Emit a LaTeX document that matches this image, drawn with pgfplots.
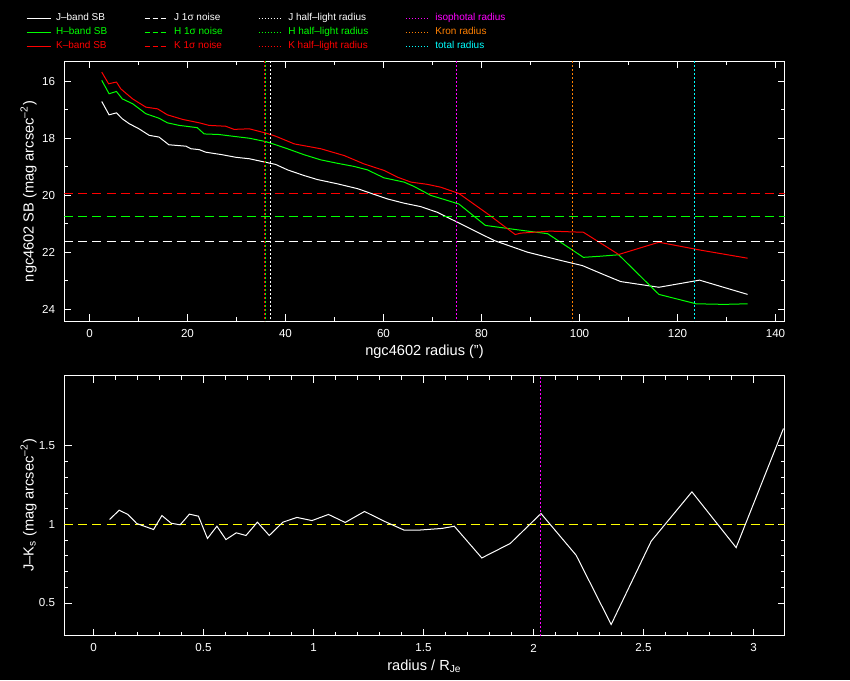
\documentclass[border=0pt]{standalone}
\usepackage{fontspec}
\setmainfont{Liberation Sans}
\usepackage{pgfplots}
\usepackage{pgfplotstable}
\pgfplotsset{compat=1.18}
\definecolor{pgreen}{RGB}{0,255,0}
\definecolor{pred}{RGB}{255,0,0}
\definecolor{pmag}{RGB}{255,0,255}
\definecolor{porange}{RGB}{255,128,0}
\definecolor{pcyan}{RGB}{0,255,255}
\definecolor{pyellow}{RGB}{255,255,0}

\pgfplotstableread{
r sb
2.5 16.70
4.0 17.17
5.5 17.10
6.7 17.31
8.1 17.48
10.1 17.66
12.2 17.89
14.2 17.95
16.2 18.22
19.7 18.27
20.7 18.36
22.4 18.39
23.7 18.48
27.1 18.57
29.9 18.66
32.6 18.71
35.3 18.81
38.0 18.91
40.4 19.10
43.8 19.30
46.5 19.44
50.6 19.59
54.7 19.76
57.4 19.92
60.8 20.12
64.2 20.27
67.6 20.39
71.0 20.59
75.1 20.94
82.6 21.58
89.4 21.99
96.2 22.28
100.6 22.46
105.0 22.78
108.4 23.02
116.2 23.22
124.5 22.97
134.3 23.47
}\Jdata

\pgfplotstableread{
r sb
2.5 15.96
4.0 16.43
5.5 16.35
6.7 16.61
8.8 16.78
11.5 17.13
14.2 17.29
15.9 17.45
18.3 17.54
22.0 17.62
23.4 17.84
26.4 17.86
29.2 17.92
32.6 17.99
36.0 18.11
38.0 18.22
40.4 18.36
43.8 18.57
47.2 18.75
50.6 18.87
54.0 18.98
56.7 19.10
60.1 19.38
64.2 19.53
66.2 19.68
69.7 20.00
72.4 20.14
75.4 20.30
80.8 21.05
87.2 21.20
93.5 21.34
100.8 22.17
104.3 22.13
108.0 22.08
116.2 23.47
123.8 23.80
129.5 23.82
134.3 23.80
}\Hdata

\pgfplotstableread{
r sb
2.5 15.67
3.9 16.08
5.5 16.02
6.4 16.26
8.8 16.61
11.5 16.90
13.9 16.96
15.9 17.17
19.0 17.33
22.4 17.45
24.4 17.54
27.8 17.57
29.5 17.68
32.6 17.66
36.0 17.81
38.0 17.92
41.8 18.19
47.2 18.36
52.0 18.60
56.0 18.89
60.1 19.12
62.9 19.36
65.6 19.53
69.0 19.61
71.7 19.71
75.4 19.93
81.3 20.65
86.9 21.37
88.0 21.32
94.0 21.25
100.8 21.29
108.0 22.07
116.2 21.64
124.8 21.92
134.3 22.20
}\Kdata

\pgfplotstableread{
x jk
0.073 1.032
0.117 1.091
0.156 1.064
0.197 1.006
0.273 0.968
0.311 1.057
0.353 1.008
0.394 0.998
0.436 1.066
0.477 1.053
0.518 0.911
0.561 0.989
0.602 0.904
0.649 0.947
0.693 0.930
0.745 1.015
0.799 0.930
0.861 1.015
0.925 1.045
0.993 1.025
1.068 1.064
1.144 1.013
1.232 1.083
1.318 1.023
1.412 0.964
1.477 0.964
1.584 0.975
1.640 0.989
1.765 0.787
1.894 0.879
2.034 1.070
2.194 0.804
2.353 0.363
2.535 0.894
2.720 1.208
2.921 0.853
3.136 1.611
}\JKdata

\pgfplotsset{
  pgstyle/.style={
    scale only axis, width=360pt, height=130pt,
    axis line style={white, line width=0.5pt},
    every tick/.style={white, line width=0.5pt},
    tick align=inside, xtick pos=both, ytick pos=both,
    xticklabel pos=left, yticklabel pos=left,
    major tick length=3.5pt, minor tick length=2pt,
    /pgf/number format/assume math mode=true,
    ticklabel style={font=\fontsize{5.8}{6}\selectfont, text=white},
    xticklabel style={anchor=center, yshift=-6.25pt},
    yticklabel style={anchor=east, inner sep=0pt, xshift=-4.5pt},
    label style={font=\fontsize{7.3}{8}\selectfont, text=white},
    clip=true,
  },
  noise/.style={line width=0.55pt, dash pattern=on 4.5pt off 2.5pt, forget plot},
  radl/.style={line width=0.55pt, dash pattern=on 1pt off 1pt, forget plot},
}

\begin{document}
\begin{tikzpicture}
\fill[black] (0,0) rectangle (425pt,340pt);

\begin{axis}[pgstyle,
  at={(32.25pt,179.25pt)}, anchor=south west,
  xmin=-5.10, xmax=141.84, ymin=15.298, ymax=24.421, y dir=reverse,
  xtick={0,20,...,140}, minor x tick num=1,
  ytick={16,18,...,24}, minor y tick num=1,
  xlabel={ngc4602 radius (")},
  ylabel={ngc4602 SB (mag arcsec\textsuperscript{–2})},
  xlabel style={at={(axis description cs:0.5,-0.118)}, anchor=center},
  ylabel style={at={(axis description cs:-0.05,0.5)}, anchor=center},
  legend columns=4,
  legend cell align=left,
  legend image code/.code={\draw[#1, line width=0.55pt] (0pt,0pt) -- (12pt,0pt);},
  legend style={at={(axis description cs:-0.0535,1.184)}, anchor=north west,
    draw=none, fill=none, inner sep=0pt, outer sep=0pt,
    row sep=2.4pt, column sep=0pt,
    font=\fontsize{5}{6}\selectfont,
    nodes={inner sep=0pt, text height=3.6pt, text depth=1pt}},
]
% legend images (row-wise: 4 columns)
\addlegendimage{white}
\addlegendentry{\hspace{2.5pt}\makebox[44pt][l]{\textcolor{white}{J–band SB}}}
\addlegendimage{white, dash pattern=on 2.5pt off 1.5pt}
\addlegendentry{\hspace{2.5pt}\makebox[42pt][l]{\textcolor{white}{J 1σ noise}}}
\addlegendimage{white, dash pattern=on 0.5pt off 1pt}
\addlegendentry{\hspace{2.5pt}\makebox[58.5pt][l]{\textcolor{white}{J half–light radius}}}
\addlegendimage{pmag, dash pattern=on 0.5pt off 1pt}
\addlegendentry{\hspace{2.5pt}\makebox[47.5pt][l]{\textcolor{pmag}{isophotal radius}}}
\addlegendimage{pgreen}
\addlegendentry{\hspace{2.5pt}\makebox[44pt][l]{\textcolor{pgreen}{H–band SB}}}
\addlegendimage{pgreen, dash pattern=on 2.5pt off 1.5pt}
\addlegendentry{\hspace{2.5pt}\makebox[42pt][l]{\textcolor{pgreen}{H 1σ noise}}}
\addlegendimage{pgreen, dash pattern=on 0.5pt off 1pt}
\addlegendentry{\hspace{2.5pt}\makebox[58.5pt][l]{\textcolor{pgreen}{H half–light radius}}}
\addlegendimage{porange, dash pattern=on 0.5pt off 1pt}
\addlegendentry{\hspace{2.5pt}\makebox[47.5pt][l]{\textcolor{porange}{Kron radius}}}
\addlegendimage{pred}
\addlegendentry{\hspace{2.5pt}\makebox[44pt][l]{\textcolor{pred}{K–band SB}}}
\addlegendimage{pred, dash pattern=on 2.5pt off 1.5pt}
\addlegendentry{\hspace{2.5pt}\makebox[42pt][l]{\textcolor{pred}{K 1σ noise}}}
\addlegendimage{pred, dash pattern=on 0.5pt off 1pt}
\addlegendentry{\hspace{2.5pt}\makebox[58.5pt][l]{\textcolor{pred}{K half–light radius}}}
\addlegendimage{pcyan, dash pattern=on 0.5pt off 1pt}
\addlegendentry{\hspace{2.5pt}\makebox[47.5pt][l]{\textcolor{pcyan}{total radius}}}

% profiles
\addplot[white, line width=0.5pt, forget plot] table[x=r, y=sb] {\Jdata};
\addplot[pgreen, line width=0.5pt, forget plot] table[x=r, y=sb] {\Hdata};
\addplot[pred, line width=0.5pt, forget plot] table[x=r, y=sb] {\Kdata};
% noise levels
\addplot[draw=white, noise] coordinates {(-5.10,21.614) (141.84,21.614)};
\addplot[draw=pgreen, noise] coordinates {(-5.10,20.737) (141.84,20.737)};
\addplot[draw=pred, noise] coordinates {(-5.10,19.930) (141.84,19.930)};
% radii
\addplot[draw=pred, radl] coordinates {(35.71,15.298) (35.71,24.421)};
\addplot[draw=pgreen, radl] coordinates {(35.92,15.298) (35.92,24.421)};
\addplot[draw=white, radl] coordinates {(36.94,15.298) (36.94,24.421)};
\addplot[draw=pmag, radl] coordinates {(74.90,15.298) (74.90,24.421)};
\addplot[draw=porange, radl] coordinates {(98.57,15.298) (98.57,24.421)};
\addplot[draw=pcyan, radl] coordinates {(123.47,15.298) (123.47,24.421)};
\end{axis}

\begin{axis}[pgstyle,
  at={(32.25pt,22.25pt)}, anchor=south west,
  xmin=-0.1318, xmax=3.1409, ymin=0.2930, ymax=1.9490,
  xtick={0,0.5,...,3}, minor x tick num=4,
  ytick={0.5,1,1.5}, minor y tick num=4,
  xlabel={radius / R\textsubscript{Je}},
  ylabel={J–K\textsubscript{s} (mag arcsec\textsuperscript{–2})},
  xlabel style={at={(axis description cs:0.5,-0.119)}, anchor=center},
  ylabel style={at={(axis description cs:-0.05,0.5)}, anchor=center},
]
\addplot[draw=pyellow, noise] coordinates {(-0.1318,1) (3.1409,1)};
\addplot[white, line width=0.5pt] table[x=x, y=jk] {\JKdata};
\addplot[draw=pmag, radl] coordinates {(2.0318,0.2930) (2.0318,1.9490)};
\end{axis}
\end{tikzpicture}
\end{document}
